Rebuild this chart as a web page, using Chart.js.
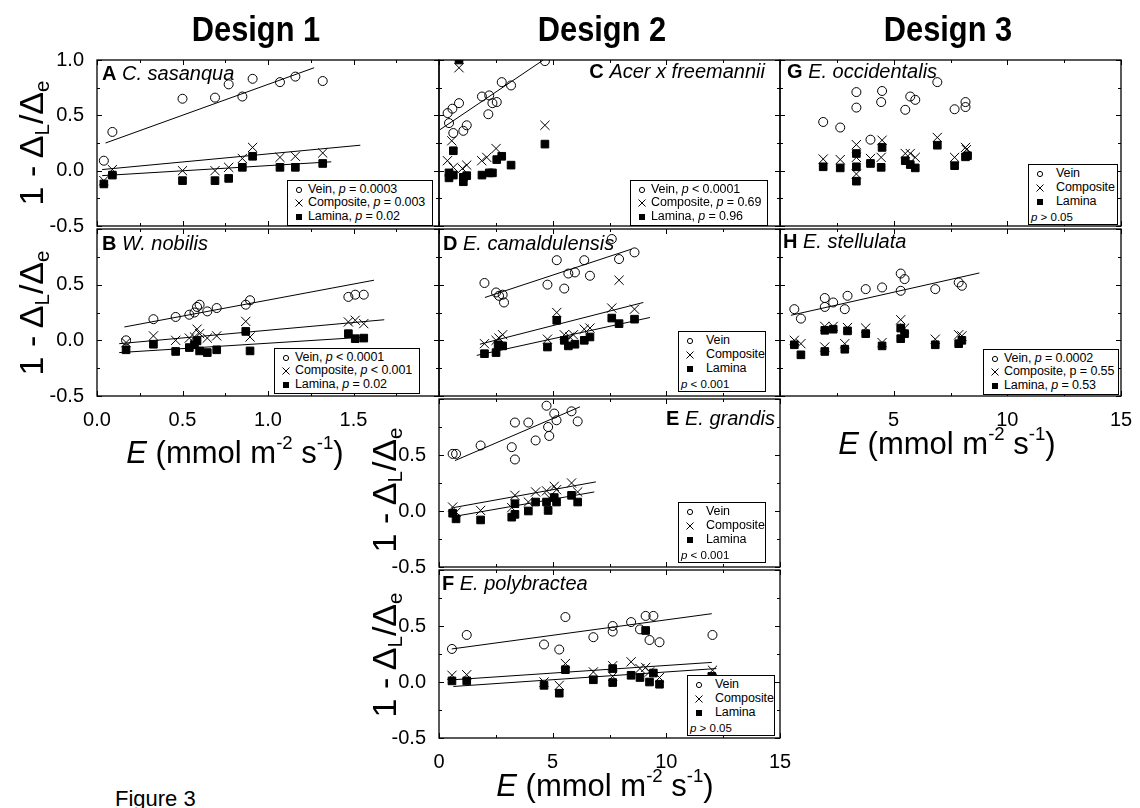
<!DOCTYPE html>
<html>
<head>
<meta charset="utf-8">
<script src="https://cdn.jsdelivr.net/npm/chart.js@4.4.0/dist/chart.umd.min.js"></script>
<style>
    body { margin: 0; background: #fff; width: 1140px; height: 808px; overflow: hidden; position: relative;
           font-family: "Liberation Sans", Arial, sans-serif; color: #000; }
    canvas { position: absolute; }
    .txt { position: absolute; white-space: nowrap; line-height: 1; }
    .design { font-weight: bold; font-size: 35px; transform: translateX(-50%) scaleX(0.88); }
    .ytitle { font-size: 34px; transform: translate(-50%, -50%) rotate(-90deg); }
    .ytitle sub { font-size: 0.6em; vertical-align: -0.3em; }
    .xtitle { font-size: 31px; transform: translateX(-50%); }
    .xtitle sup { font-size: 0.6em; vertical-align: 0.75em; }
    .plabel { font-size: 20px; line-height: 20px; }
    .legend { position: absolute; box-sizing: border-box; border: 1.3px solid #000; background: #fff; z-index: 5; }
    .legend .row { position: absolute; font-size: 12.5px; line-height: 13px; white-space: nowrap; letter-spacing: -0.1px; }
    .legend .note { position: absolute; font-size: 11.5px; line-height: 12px; white-space: nowrap; }
    .sym { position: absolute; }
</style>
</head>
<body>
<script>
// ---- data: [E, 1 - ΔL/Δe] pairs ----
// Panel A  C. sasanqua
const A_vein = [[0.04, 0.09], [0.09, 0.35], [0.50, 0.65], [0.69, 0.66], [0.77, 0.78], [0.85, 0.67], [0.91, 0.83], [1.07, 0.80], [1.16, 0.85], [1.32, 0.81]];
const A_comp = [[0.04, -0.09], [0.09, 0.01], [0.50, 0.00], [0.69, 0.00], [0.77, 0.03], [0.85, 0.11], [0.91, 0.21], [1.07, 0.12], [1.16, 0.13], [1.32, 0.16]];
const A_lam = [[0.04, -0.12], [0.09, -0.04], [0.50, -0.09], [0.69, -0.09], [0.77, -0.07], [0.85, 0.03], [0.91, 0.13], [1.07, 0.03], [1.16, 0.03], [1.32, 0.065]];
const A_veinFit = [[0.05, 0.25], [1.27, 0.93]];
const A_compFit = [[0.03, 0.01], [1.54, 0.23]];
const A_lamFit = [[0.03, -0.045], [1.37, 0.08]];

// Panel B  W. nobilis
const B_vein = [[0.17, 0.00], [0.33, 0.19], [0.46, 0.21], [0.54, 0.23], [0.57, 0.25], [0.585, 0.30], [0.60, 0.32], [0.645, 0.26], [0.70, 0.29], [0.87, 0.32], [0.895, 0.36], [1.47, 0.39], [1.51, 0.41], [1.56, 0.41]];
const B_comp = [[0.17, -0.02], [0.33, 0.04], [0.46, 0.00], [0.54, 0.02], [0.57, 0.03], [0.585, 0.10], [0.60, 0.06], [0.645, 0.02], [0.70, 0.04], [0.87, 0.17], [0.895, 0.03], [1.47, 0.165], [1.51, 0.18], [1.56, 0.15]];
const B_lam = [[0.17, -0.085], [0.33, -0.035], [0.46, -0.10], [0.54, -0.065], [0.57, -0.04], [0.585, -0.005], [0.60, -0.095], [0.645, -0.11], [0.70, -0.085], [0.87, 0.08], [0.895, -0.095], [1.47, 0.06], [1.51, 0.015], [1.56, 0.02]];
const B_veinFit = [[0.16, 0.12], [1.62, 0.54]];
const B_compFit = [[0.13, -0.03], [1.68, 0.185]];
const B_lamFit = [[0.13, -0.11], [1.58, 0.03]];

// Panel C  Acer x freemannii
const C_vein = [[0.38, 0.52], [0.44, 0.43], [0.59, 0.56], [0.63, 0.34], [0.88, 0.61], [1.07, 0.36], [1.22, 0.41], [1.89, 0.67], [2.17, 0.51], [2.21, 0.68], [2.35, 0.61], [2.54, 0.62], [2.76, 0.80], [3.17, 0.77], [4.66, 0.99]];
const C_comp = [[0.88, 0.93], [0.56, 0.27], [0.37, 0.09], [0.63, 0.03], [1.03, 0.02], [1.22, 0.05], [1.88, 0.09], [2.10, 0.12], [2.51, 0.20], [4.66, 0.41]];
const C_lam = [[0.88, 1.0], [0.63, 0.18], [0.44, -0.02], [0.44, -0.065], [0.63, -0.04], [1.07, -0.06], [1.07, -0.10], [1.22, -0.045], [1.89, -0.04], [2.21, -0.02], [2.35, -0.02], [2.54, 0.10], [2.76, 0.13], [3.17, 0.05], [4.66, 0.24]];
const C_veinFit = [[0.04, 0.37], [4.59, 1.0]];

// Panel D  E. camaldulensis
const D_vein = [[2.0, 0.515], [2.51, 0.43], [2.64, 0.40], [2.80, 0.41], [2.86, 0.34], [4.77, 0.50], [5.18, 0.72], [5.51, 0.465], [5.69, 0.60], [5.98, 0.61], [6.39, 0.72], [6.64, 0.58], [7.6, 0.91], [7.92, 0.73], [8.6, 0.79]];
const D_comp = [[2.0, -0.03], [2.51, 0.0], [2.64, 0.02], [2.80, 0.05], [4.77, 0.01], [5.18, 0.25], [5.51, 0.05], [5.75, 0.03], [5.91, 0.05], [6.39, 0.10], [6.64, 0.11], [7.6, 0.29], [7.92, 0.54], [8.6, 0.28]];
const D_lam = [[2.0, -0.12], [2.51, -0.11], [2.6, -0.04], [2.80, -0.05], [4.77, -0.06], [5.18, 0.18], [5.51, 0.0], [5.69, -0.05], [5.98, -0.035], [6.39, 0.0], [6.64, 0.03], [7.6, 0.20], [7.92, 0.15], [8.6, 0.19]];
const D_veinFit = [[2.02, 0.385], [8.48, 0.82]];
const D_compFit = [[1.8, -0.035], [8.99, 0.34]];
const D_lamFit = [[1.66, -0.135], [9.28, 0.205]];

// Panel E  E. grandis
const E_vein = [[0.60, 0.51], [0.75, 0.51], [1.83, 0.585], [3.2, 0.57], [3.34, 0.46], [3.34, 0.79], [3.93, 0.79], [4.25, 0.63], [4.73, 0.94], [4.80, 0.75], [4.85, 0.67], [5.07, 0.87], [5.17, 0.81], [5.83, 0.89], [6.1, 0.80]];
const E_comp = [[0.60, 0.035], [0.75, -0.01], [1.83, 0.005], [3.2, 0.03], [3.34, 0.14], [3.93, 0.08], [4.25, 0.17], [4.73, 0.18], [4.85, 0.12], [5.07, 0.22], [5.17, 0.19], [5.83, 0.25], [6.1, 0.17]];
const E_lam = [[0.60, -0.02], [0.75, -0.07], [1.83, -0.08], [3.2, -0.055], [3.34, -0.03], [3.34, 0.065], [3.93, 0.0], [4.25, 0.08], [4.73, 0.08], [4.80, 0.005], [5.07, 0.12], [5.17, 0.08], [5.83, 0.14], [6.1, 0.08]];
const E_veinFit = [[0.70, 0.45], [6.2, 0.93]];
const E_compFit = [[0.63, 0.03], [6.9, 0.26]];
const E_lamFit = [[0.63, -0.05], [6.83, 0.17]];

// Panel F  E. polybractea
const F_vein = [[0.57, 0.295], [1.22, 0.42], [4.62, 0.335], [5.29, 0.29], [5.56, 0.58], [6.79, 0.40], [7.64, 0.50], [7.64, 0.45], [8.45, 0.535], [8.84, 0.47], [9.09, 0.59], [9.43, 0.59], [9.26, 0.375], [9.7, 0.355], [12.03, 0.42]];
const F_comp = [[0.57, 0.06], [1.22, 0.065], [4.62, 0.0], [5.29, -0.03], [5.56, 0.165], [6.79, 0.09], [7.64, 0.145], [7.64, 0.05], [8.45, 0.18], [8.84, 0.12], [9.09, 0.13], [9.26, 0.09], [9.7, 0.04], [12.03, 0.105]];
const F_lam = [[0.57, 0.01], [1.22, 0.01], [4.62, -0.03], [5.29, -0.10], [5.56, 0.11], [6.79, 0.02], [7.64, 0.12], [7.64, -0.005], [8.45, 0.06], [8.84, 0.04], [9.09, 0.46], [9.26, 0.0], [9.43, 0.08], [9.7, -0.02], [12.0, 0.05]];
const F_veinFit = [[0.56, 0.295], [12.0, 0.61]];
const F_compFit = [[0.63, 0.02], [12.0, 0.175]];
const F_lamFit = [[0.63, -0.04], [12.2, 0.12]];

// Panel G  E. occidentalis (no fits)
const G_vein = [[1.9, 0.44], [2.65, 0.39], [3.36, 0.71], [3.36, 0.57], [3.98, 0.28], [4.49, 0.72], [4.45, 0.62], [5.51, 0.55], [5.73, 0.67], [5.95, 0.64], [6.92, 0.80], [7.68, 0.555], [8.16, 0.62], [8.16, 0.575]];
const G_comp = [[1.9, 0.105], [2.65, 0.10], [3.36, 0.235], [3.36, 0.12], [3.36, -0.03], [3.98, 0.11], [4.49, 0.275], [4.45, 0.12], [5.51, 0.155], [5.73, 0.155], [5.95, 0.12], [6.92, 0.30], [7.68, 0.12], [8.16, 0.21], [8.2, 0.19]];
const G_lam = [[1.9, 0.035], [2.65, 0.025], [3.36, 0.155], [3.36, 0.035], [3.36, -0.095], [3.98, 0.065], [4.49, 0.21], [4.45, 0.03], [5.51, 0.09], [5.73, 0.055], [5.95, 0.025], [6.92, 0.23], [7.68, 0.045], [8.16, 0.125], [8.25, 0.135]];

// Panel H  E. stellulata
const H_vein = [[0.63, 0.28], [0.92, 0.195], [1.97, 0.30], [1.97, 0.38], [2.34, 0.34], [2.85, 0.28], [2.97, 0.40], [3.77, 0.46], [4.49, 0.475], [5.31, 0.60], [5.48, 0.55], [5.31, 0.445], [6.83, 0.46], [7.86, 0.52], [8.0, 0.49]];
const H_comp = [[0.63, 0.0], [0.92, -0.03], [1.97, -0.06], [1.97, 0.125], [2.34, 0.125], [2.85, -0.03], [2.97, 0.115], [3.77, 0.11], [4.49, -0.02], [5.31, 0.185], [5.48, 0.11], [6.83, 0.01], [7.86, 0.05], [8.0, 0.04]];
const H_lam = [[0.63, -0.04], [0.92, -0.13], [1.97, -0.10], [1.97, 0.09], [2.34, 0.10], [2.85, -0.08], [2.97, 0.085], [3.77, 0.06], [4.49, -0.05], [5.31, 0.11], [5.31, 0.015], [5.48, 0.06], [6.83, -0.04], [7.86, -0.03], [8.0, 0.0]];
const H_veinFit = [[0.48, 0.225], [8.77, 0.605]];

// Tick labels that are printed on each axis
const Y_TICKS_ALL = [1.0, 0.5, 0.0, -0.5];
const Y_TICKS_LOWER = [0.5, 0.0, -0.5];
const X_TICKS_COL1 = [0.0, 0.5, 1.0, 1.5];
const X_TICKS_COL2 = [0, 5, 10, 15];
const X_TICKS_COL3 = [5, 10, 15];

// Legend texts
const LEG_A = ['Vein, <i>p</i> = 0.0003', 'Composite, <i>p</i> = 0.003', 'Lamina, <i>p</i> = 0.02'];
const LEG_B = ['Vein, <i>p</i> &lt; 0.0001', 'Composite, <i>p</i> &lt; 0.001', 'Lamina, <i>p</i> = 0.02'];
const LEG_C = ['Vein, <i>p</i> &lt; 0.0001', 'Composite, <i>p</i> = 0.69', 'Lamina, <i>p</i> = 0.96'];
const LEG_PLAIN = ['Vein', 'Composite', 'Lamina'];
const LEG_H = ['Vein, <i>p</i> = 0.0002', 'Composite, p = 0.55', 'Lamina, <i>p</i> = 0.53'];

// ---- layout (page pixels) ----
const COLS = [[97, 439], [439, 780], [780, 1121]];
const ROWS = [[57, 226], [226, 396], [396, 567], [567, 738]];
const PAD = { l: 60, r: 22, t: 14, b: 32 };
const FONT = "'Liberation Sans', Arial, sans-serif";

const PANELS = [
    { col: 0, row: 0, vein: A_vein, comp: A_comp, lam: A_lam, fits: [A_veinFit, A_compFit, A_lamFit], yLab: Y_TICKS_ALL, xLab: [],
      label: '<b>A</b> <i>C. sasanqua</i>', lx: 102, ly: 80, legend: { x: 287, y: 180, w: 146, rows: LEG_A } },
    { col: 0, row: 1, vein: B_vein, comp: B_comp, lam: B_lam, fits: [B_veinFit, B_compFit, B_lamFit], yLab: Y_TICKS_LOWER, xLab: X_TICKS_COL1,
      label: '<b>B</b> <i>W. nobilis</i>', lx: 102, ly: 250, legend: { x: 274, y: 348, w: 146, rows: LEG_B } },
    { col: 1, row: 0, vein: C_vein, comp: C_comp, lam: C_lam, fits: [C_veinFit], yLab: [], xLab: [],
      label: '<b>C</b> <i>Acer x freemannii</i>', rx: 765, ly: 78, legend: { x: 630, y: 180, w: 138, rows: LEG_C } },
    { col: 1, row: 1, vein: D_vein, comp: D_comp, lam: D_lam, fits: [D_veinFit, D_compFit, D_lamFit], yLab: [], xLab: [],
      label: '<b>D</b> <i>E. camaldulensis</i>', lx: 443, ly: 250, legend: { x: 678, y: 331, w: 88, rows: LEG_PLAIN, note: '<i>p</i> &lt; 0.001' } },
    { col: 1, row: 2, vein: E_vein, comp: E_comp, lam: E_lam, fits: [E_veinFit, E_compFit, E_lamFit], yLab: Y_TICKS_LOWER, xLab: [],
      label: '<b>E</b> <i>E. grandis</i>', rx: 775, ly: 425, legend: { x: 678, y: 502, w: 88, rows: LEG_PLAIN, note: '<i>p</i> &lt; 0.001' } },
    { col: 1, row: 3, vein: F_vein, comp: F_comp, lam: F_lam, fits: [F_veinFit, F_compFit, F_lamFit], yLab: Y_TICKS_LOWER, xLab: X_TICKS_COL2,
      label: '<b>F</b> <i>E. polybractea</i>', lx: 442, ly: 590, legend: { x: 687, y: 675, w: 88, rows: LEG_PLAIN, note: '<i>p</i> &gt; 0.05' } },
    { col: 2, row: 0, vein: G_vein, comp: G_comp, lam: G_lam, fits: [], yLab: [], xLab: [],
      label: '<b>G</b> <i>E. occidentalis</i>', lx: 787, ly: 78, legend: { x: 1028, y: 164, w: 90, rows: LEG_PLAIN, note: '<i>p</i> &gt; 0.05' } },
    { col: 2, row: 1, vein: H_vein, comp: H_comp, lam: H_lam, fits: [H_veinFit], yLab: [], xLab: X_TICKS_COL3,
      label: '<b>H</b> <i>E. stellulata</i>', lx: 783, ly: 248, legend: { x: 983, y: 349, w: 136, rows: LEG_H } }
];

function toPts(arr) {
    return arr.map(p => ({ x: p[0], y: p[1] }));
}

function onGrid(v, step) {
    const k = v / step;
    return Math.abs(k - Math.round(k)) < 1e-6;
}

function inList(v, list) {
    return list.some(u => Math.abs(u - v) < 1e-6);
}

// Box round the plot area with inward ticks on all four sides
const frameTicks = {
    id: 'frameTicks',
    afterDatasetsDraw(chart, args, opts) {
        const { ctx, chartArea: a } = chart;
        const xs = chart.scales.x, ys = chart.scales.y;
        ctx.save();
        ctx.strokeStyle = '#000';
        ctx.lineWidth = 1;
        ctx.beginPath();
        xs.ticks.forEach(t => {
            const px = Math.round(xs.getPixelForValue(t.value)) + 0.5;
            const len = onGrid(t.value, opts.xMajor) ? 5 : 3;
            ctx.moveTo(px, a.bottom); ctx.lineTo(px, a.bottom - len);
            ctx.moveTo(px, a.top); ctx.lineTo(px, a.top + len);
        });
        ys.ticks.forEach(t => {
            const py = Math.round(ys.getPixelForValue(t.value)) + 0.5;
            const len = onGrid(t.value, opts.yMajor) ? 5 : 3;
            ctx.moveTo(a.left, py); ctx.lineTo(a.left + len, py);
            ctx.moveTo(a.right, py); ctx.lineTo(a.right - len, py);
        });
        ctx.stroke();
        ctx.lineWidth = 1.3;
        ctx.strokeRect(a.left, a.top, a.right - a.left, a.bottom - a.top);
        ctx.restore();
    }
};

function addText(cls, html, style) {
    const d = document.createElement('div');
    d.className = 'txt ' + cls;
    d.innerHTML = html;
    Object.assign(d.style, style);
    document.body.appendChild(d);
    return d;
}

function symbolHtml(kind, cx, cy) {
    if (kind === 0) {
        return `<svg class="sym" style="left:${cx - 4}px;top:${cy - 4}px" width="8" height="8"><circle cx="4" cy="4" r="2.6" fill="none" stroke="#000" stroke-width="1"/></svg>`;
    }
    if (kind === 1) {
        return `<svg class="sym" style="left:${cx - 5}px;top:${cy - 5}px" width="10" height="10"><path d="M1.5 1.5L8.5 8.5M8.5 1.5L1.5 8.5" stroke="#000" stroke-width="1"/></svg>`;
    }
    return `<svg class="sym" style="left:${cx - 4}px;top:${cy - 4}px" width="8" height="8"><rect x="1" y="1" width="6" height="6" fill="#000"/></svg>`;
}

function addLegend(lg) {
    const four = !!lg.note;
    const box = document.createElement('div');
    box.className = 'legend';
    const h = four ? 61 : 46;
    Object.assign(box.style, { left: lg.x + 'px', top: lg.y + 'px', width: lg.w + 'px', height: h + 'px' });
    const symX = four ? 11 : 11;
    const txtX = four ? 27 : 20;
    const step = four ? 14.2 : 13.3;
    let html = '';
    lg.rows.forEach((r, i) => {
        const cy = 9 + i * step;
        html += symbolHtml(i, symX, cy);
        html += `<div class="row" style="left:${txtX}px;top:${cy - 7}px">${r}</div>`;
    });
    if (four) {
        html += `<div class="note" style="left:2px;top:${9 + 3 * step - 6}px">${lg.note}</div>`;
    }
    box.innerHTML = html;
    document.body.appendChild(box);
}

function makePanel(p) {
    const [L, R] = COLS[p.col];
    const [T, B] = ROWS[p.row];
    const w = R - L + PAD.l + PAD.r;
    const h = B - T + PAD.t + PAD.b;
    const cv = document.createElement('canvas');
    cv.width = w;
    cv.height = h;
    cv.style.left = (L - PAD.l) + 'px';
    cv.style.top = (T - PAD.t) + 'px';
    cv.style.width = w + 'px';
    cv.style.height = h + 'px';
    document.body.appendChild(cv);

    const col1 = p.col === 0;
    const xMax = col1 ? 2 : 15;
    const xStep = col1 ? 0.25 : 2.5;
    const xMajor = col1 ? 0.5 : 5;

    const datasets = [];
    p.fits.forEach(f => {
        datasets.push({
            type: 'line', data: toPts(f), borderColor: '#000', borderWidth: 1,
            pointRadius: 0, fill: false, tension: 0, order: 3
        });
    });
    datasets.push({
        data: toPts(p.vein), pointStyle: 'circle', pointRadius: 4.5,
        pointBackgroundColor: 'rgba(0,0,0,0)', pointBorderColor: '#000', pointBorderWidth: 1, order: 2
    });
    datasets.push({
        data: toPts(p.lam), pointStyle: 'rect', pointRadius: 5.4,
        pointBackgroundColor: '#000', pointBorderColor: '#000', pointBorderWidth: 1, order: 1
    });
    datasets.push({
        data: toPts(p.comp), pointStyle: 'crossRot', pointRadius: 6.5,
        pointBorderColor: '#000', pointBorderWidth: 1, order: 0
    });

    new Chart(cv, {
        type: 'scatter',
        data: { datasets },
        options: {
            responsive: false,
            animation: false,
            devicePixelRatio: 1,
            events: [],
            layout: { padding: { top: PAD.t, right: PAD.r, left: 0, bottom: 0 } },
            plugins: {
                legend: { display: false },
                tooltip: { enabled: false },
                frameTicks: { xMajor: xMajor, yMajor: 0.5 }
            },
            scales: {
                x: {
                    type: 'linear', min: 0, max: xMax,
                    grid: { display: false }, border: { display: false },
                    afterFit: s => { s.height = PAD.b; },
                    ticks: {
                        stepSize: xStep, autoSkip: false, maxRotation: 0, padding: 4,
                        color: '#000', font: { family: FONT, size: 20 },
                        callback: v => inList(v, p.xLab) ? (col1 ? v.toFixed(1) : String(Math.round(v))) : ''
                    }
                },
                y: {
                    type: 'linear', min: -0.5, max: 1.0,
                    grid: { display: false }, border: { display: false },
                    afterFit: s => { s.width = PAD.l; },
                    ticks: {
                        stepSize: 0.25, autoSkip: false, padding: 5,
                        color: '#000', font: { family: FONT, size: 20 },
                        callback: v => inList(v, p.yLab) ? v.toFixed(1) : ''
                    }
                }
            }
        },
        plugins: [frameTicks]
    });

    // panel letter and species
    const st = { top: (p.ly - 17) + 'px' };
    if (p.rx !== undefined) st.right = (1140 - p.rx) + 'px'; else st.left = p.lx + 'px';
    addText('plabel', p.label, st);

    addLegend(p.legend);
}

PANELS.forEach(makePanel);

// column headings
addText('design', 'Design 1', { left: '256px', top: '11px' });
addText('design', 'Design 2', { left: '602px', top: '11px' });
addText('design', 'Design 3', { left: '948px', top: '11px' });

// y-axis titles
const YT = '1 - Δ<sub>L</sub>/Δ<sub>e</sub>';
addText('ytitle', YT, { left: '33px', top: '143px' });
addText('ytitle', YT, { left: '33px', top: '313px' });
addText('ytitle', YT, { left: '386px', top: '490px' });
addText('ytitle', YT, { left: '386px', top: '655px' });

// x-axis titles
const XT = '<i>E</i> (mmol m<sup>-2</sup> s<sup>-1</sup>)';
addText('xtitle', XT, { left: '235px', top: '434px' });
addText('xtitle', XT, { left: '605px', top: '767px' });
addText('xtitle', XT, { left: '947px', top: '425px' });

addText('', 'Figure 3', { left: '115px', top: '788px', fontSize: '22px' });
</script>
</body>
</html>
